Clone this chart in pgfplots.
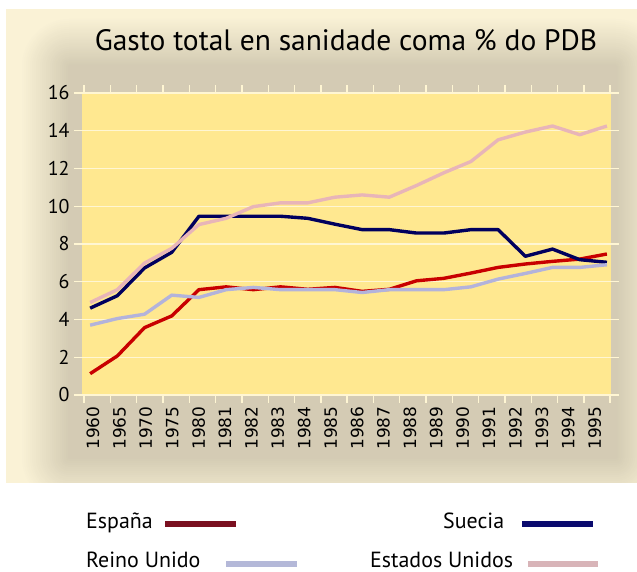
\documentclass[border=0pt]{standalone}
\usepackage{pgfplots}
\usepackage{pgfplotstable}
\pgfplotsset{compat=1.18}
\usepackage{fontspec}
\setmainfont{PT Sans}
\newfontfamily\dejavu{DejaVu Sans}
\definecolor{plotbg}{HTML}{FFE890}
\definecolor{framecream}{HTML}{FAF2D6}
\definecolor{glowdark}{HTML}{D2CAB2}
\definecolor{espana}{HTML}{C80000}
\definecolor{suecia}{HTML}{00005E}
\definecolor{reino}{HTML}{B3B3DB}
\definecolor{eeuu}{HTML}{E8B5B8}
\definecolor{lespana}{HTML}{7A1020}
\definecolor{lsuecia}{HTML}{0A0A6E}
\definecolor{lreino}{HTML}{B4B8D8}
\definecolor{leeuu}{HTML}{D8B4B8}

\pgfplotstableread{
x espana suecia reino eeuu
0  1.13 4.60 3.70 4.90
1  2.07 5.26 4.05 5.58
2  3.57 6.73 4.28 6.99
3  4.19 7.56 5.29 7.77
4  5.58 9.47 5.17 9.03
5  5.73 9.47 5.58 9.36
6  5.58 9.47 5.70 9.98
7  5.73 9.47 5.58 10.18
8  5.60 9.36 5.58 10.18
9  5.70 9.05 5.58 10.48
10 5.49 8.76 5.43 10.60
11 5.60 8.76 5.58 10.48
12 6.05 8.58 5.58 11.10
13 6.18 8.58 5.58 11.77
14 6.46 8.76 5.73 12.37
15 6.76 8.76 6.14 13.52
16 6.94 7.35 6.44 13.93
17 7.08 7.73 6.76 14.25
18 7.20 7.17 6.76 13.79
19 7.47 7.03 6.90 14.25
}\datatable

\begin{document}
\begin{tikzpicture}
\useasboundingbox (0,0) rectangle (637bp,572bp);
\fill[white] (0,0) rectangle (637bp,572bp);
% frame with glow
\begin{scope}
\clip (6bp,89bp) rectangle (637bp,563bp);
\fill[framecream] (6bp,89bp) rectangle (637bp,563bp);
\foreach \i in {0,...,24}{
  \pgfmathsetmacro{\d}{50-2*\i}
  \pgfmathsetmacro{\p}{4*\i}
  \fill[glowdark!\p!framecream, rounded corners=\d bp] ({(70-\d)*1bp},{(115-\d)*1bp}) rectangle ({(615+\d)*1bp},{(505+\d)*1bp});
}
\end{scope}
% title
\node[anchor=base, font=\fontsize{29.6}{30}\selectfont] at (346bp,521bp) {Gasto total en sanidade coma \% do PDB};

\begin{axis}[
  at={(82bp,177bp)}, anchor=south west,
  scale only axis, width=529bp, height=302bp,
  xmin=-0.3, xmax=19.15, ymin=0, ymax=16,
  axis background/.style={fill=plotbg},
  axis line style={draw=none},
  ytick={0,2,...,16},
  ymajorgrids,
  major grid style={draw=white!60!plotbg, line width=1.4pt},
  y tick style={draw=white!60!plotbg, line width=1.2pt},
  tick align=outside,
  major tick length=8bp,
  yticklabel style={font=\fontsize{20}{20}\selectfont, xshift=-1bp},
  xtick={0.07,1.04,2.01,2.98,3.95,4.92,5.89,6.86,7.83,8.81,9.78,10.75,11.72,12.69,13.66,14.63,15.60,16.57,17.54,18.51},
  xticklabels={1960,1965,1970,1975,1980,1981,1982,1983,1984,1985,1986,1987,1988,1989,1990,1991,1992,1993,1994,1995},
  x tick style={draw=none},
  xticklabel style={font=\dejavu\fontsize{17}{17}\selectfont, rotate=90, anchor=east, yshift=-1bp},
  extra x ticks={-0.22,0.747,1.714,2.681,3.648,4.615,5.582,6.549,7.516,8.483,9.45,10.417,11.384,12.351,13.318,14.285,15.252,16.219,17.186,18.153,19.12},
  extra x tick labels={},
  extra x tick style={x tick style={draw=white!60!plotbg, line width=1.4pt}, major tick length=8bp},
  /pgf/number format/assume math mode=true,
  clip=false,
]
\addplot[espana, line width=3.4pt, line join=round] table[x=x, y=espana] {\datatable};
\addplot[suecia, line width=3.4pt, line join=round] table[x=x, y=suecia] {\datatable};
\addplot[reino, line width=3.4pt, line join=round] table[x=x, y=reino] {\datatable};
\addplot[eeuu, line width=3.4pt, line join=round] table[x=x, y=eeuu] {\datatable};
\end{axis}

% legend
\begin{scope}[font=\fontsize{22}{22}\selectfont]
\node[anchor=base west, inner sep=0pt] at (86bp,43bp) {España};
\draw[lespana, line width=6bp] (165bp,48bp) -- (236bp,48bp);
\node[anchor=base west, inner sep=0pt] at (443bp,43bp) {Suecia};
\draw[lsuecia, line width=6bp] (522bp,48bp) -- (593bp,48bp);
\node[anchor=base west, inner sep=0pt] at (86bp,5bp) {Reino Unido};
\draw[lreino, line width=6bp] (226bp,8bp) -- (297bp,8bp);
\node[anchor=base west, inner sep=0pt] at (370bp,5bp) {Estados Unidos};
\draw[leeuu, line width=6bp] (528bp,8bp) -- (598bp,8bp);
\end{scope}
\end{tikzpicture}
\end{document}
